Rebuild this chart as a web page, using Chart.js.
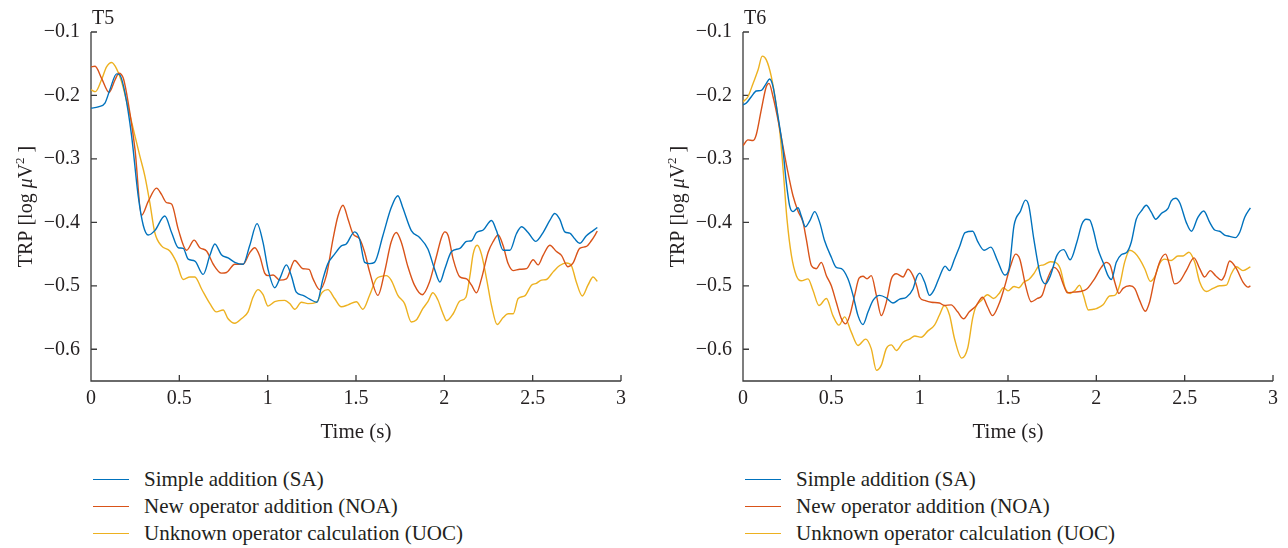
<!DOCTYPE html>
<html>
<head>
<meta charset="utf-8">
<script src="https://cdn.jsdelivr.net/npm/chart.js@4.4.1/dist/chart.umd.min.js"></script>
<style>
  body { margin: 0; background: #fff; width: 1288px; height: 548px; position: relative; overflow: hidden;
         font-family: 'Liberation Serif', serif; color: #231f20; }
  .panel { position: absolute; top: 0; width: 652px; height: 450px; }
  .tag { position: absolute; top: 7px; font-size: 20px; line-height: 20px; }
  .legend { position: absolute; top: 466px; font-size: 21px; line-height: 27px; }
  .legend div { display: flex; align-items: center; white-space: nowrap; }
  .legend .swatch { display: inline-block; width: 36px; height: 0; border-top: 1.5px solid; margin-right: 15px; }
</style>
</head>
<body>
<div class="panel" style="left:0"><canvas id="chartT5" width="652" height="450"></canvas></div>
<div class="panel" style="left:652px"><canvas id="chartT6" width="652" height="450"></canvas></div>
<div class="tag" style="left:92px">T5</div>
<div class="tag" style="left:744px">T6</div>
<div class="legend" id="legendT5" style="left:93px"></div>
<div class="legend" id="legendT6" style="left:745px"></div>

<script>
// tick values and series names
const xTicks = [0, 0.5, 1, 1.5, 2, 2.5, 3];
const yTicks = [-0.6, -0.5, -0.4, -0.3, -0.2, -0.1];
const seriesNames = ['Simple addition (SA)', 'New operator addition (NOA)', 'Unknown operator calculation (UOC)'];
const seriesColors = ['#0072bd', '#d95319', '#edb120'];

// T5: [time (s), TRP]
const t5Sa = [[0,-0.22],[0.041,-0.218],[0.079,-0.212],[0.107,-0.191],[0.145,-0.166],[0.164,-0.168],[0.192,-0.196],[0.23,-0.264],[0.267,-0.358],[0.296,-0.405],[0.324,-0.42],[0.361,-0.413],[0.418,-0.39],[0.456,-0.416],[0.494,-0.44],[0.522,-0.441],[0.55,-0.458],[0.588,-0.461],[0.635,-0.482],[0.673,-0.452],[0.701,-0.434],[0.738,-0.451],[0.776,-0.456],[0.814,-0.463],[0.861,-0.466],[0.898,-0.437],[0.94,-0.402],[0.974,-0.432],[1.002,-0.474],[1.04,-0.503],[1.068,-0.489],[1.106,-0.467],[1.134,-0.484],[1.162,-0.51],[1.2,-0.515],[1.238,-0.521],[1.279,-0.526],[1.313,-0.489],[1.341,-0.465],[1.379,-0.45],[1.417,-0.437],[1.445,-0.434],[1.492,-0.415],[1.52,-0.426],[1.549,-0.463],[1.577,-0.465],[1.605,-0.463],[1.652,-0.421],[1.699,-0.377],[1.737,-0.358],[1.765,-0.377],[1.813,-0.413],[1.86,-0.424],[1.907,-0.442],[1.944,-0.473],[1.975,-0.494],[2.003,-0.473],[2.041,-0.446],[2.088,-0.441],[2.126,-0.43],[2.154,-0.429],[2.182,-0.416],[2.22,-0.412],[2.267,-0.397],[2.295,-0.413],[2.333,-0.444],[2.371,-0.444],[2.408,-0.418],[2.437,-0.407],[2.474,-0.416],[2.518,-0.43],[2.559,-0.416],[2.597,-0.397],[2.625,-0.386],[2.653,-0.395],[2.682,-0.415],[2.71,-0.417],[2.738,-0.426],[2.766,-0.433],[2.804,-0.421],[2.842,-0.413],[2.866,-0.408]];
const t5Noa = [[0,-0.155],[0.023,-0.154],[0.06,-0.173],[0.102,-0.195],[0.135,-0.176],[0.158,-0.165],[0.183,-0.173],[0.211,-0.212],[0.249,-0.285],[0.286,-0.389],[0.324,-0.367],[0.371,-0.346],[0.399,-0.356],[0.428,-0.369],[0.456,-0.371],[0.494,-0.411],[0.541,-0.444],[0.584,-0.428],[0.616,-0.44],[0.654,-0.445],[0.692,-0.466],[0.738,-0.48],[0.767,-0.479],[0.814,-0.466],[0.861,-0.466],[0.898,-0.448],[0.927,-0.44],[0.955,-0.453],[0.983,-0.48],[1.002,-0.484],[1.031,-0.483],[1.068,-0.491],[1.106,-0.489],[1.153,-0.46],[1.2,-0.473],[1.234,-0.474],[1.257,-0.489],[1.294,-0.506],[1.332,-0.484],[1.37,-0.426],[1.398,-0.39],[1.426,-0.373],[1.455,-0.395],[1.483,-0.418],[1.52,-0.426],[1.549,-0.447],[1.577,-0.478],[1.624,-0.515],[1.662,-0.478],[1.699,-0.431],[1.728,-0.416],[1.756,-0.431],[1.794,-0.47],[1.831,-0.499],[1.875,-0.514],[1.916,-0.494],[1.954,-0.455],[1.985,-0.423],[2.003,-0.415],[2.022,-0.421],[2.05,-0.458],[2.088,-0.486],[2.126,-0.489],[2.154,-0.499],[2.182,-0.511],[2.21,-0.489],[2.248,-0.447],[2.277,-0.43],[2.305,-0.42],[2.333,-0.437],[2.361,-0.465],[2.39,-0.476],[2.427,-0.474],[2.465,-0.473],[2.503,-0.459],[2.531,-0.467],[2.559,-0.452],[2.597,-0.436],[2.635,-0.446],[2.663,-0.452],[2.7,-0.47],[2.729,-0.464],[2.766,-0.441],[2.804,-0.438],[2.832,-0.429],[2.866,-0.414]];
const t5Uoc = [[0,-0.191],[0.025,-0.194],[0.06,-0.175],[0.088,-0.155],[0.117,-0.148],[0.145,-0.158],[0.173,-0.178],[0.211,-0.22],[0.249,-0.264],[0.277,-0.296],[0.305,-0.327],[0.333,-0.369],[0.361,-0.416],[0.399,-0.437],[0.446,-0.445],[0.484,-0.463],[0.522,-0.49],[0.56,-0.486],[0.588,-0.486],[0.626,-0.505],[0.673,-0.528],[0.71,-0.541],[0.748,-0.538],[0.776,-0.552],[0.814,-0.559],[0.851,-0.552],[0.889,-0.541],[0.917,-0.518],[0.945,-0.506],[0.974,-0.514],[1.002,-0.532],[1.04,-0.525],[1.096,-0.523],[1.125,-0.528],[1.153,-0.537],[1.191,-0.526],[1.228,-0.528],[1.275,-0.526],[1.309,-0.51],[1.341,-0.506],[1.379,-0.52],[1.417,-0.533],[1.455,-0.53],[1.502,-0.525],[1.539,-0.537],[1.577,-0.515],[1.615,-0.489],[1.643,-0.485],[1.671,-0.484],[1.699,-0.491],[1.737,-0.515],[1.775,-0.528],[1.813,-0.557],[1.841,-0.554],[1.878,-0.536],[1.907,-0.525],[1.935,-0.511],[1.963,-0.522],[1.99,-0.542],[2.013,-0.555],[2.05,-0.544],[2.088,-0.524],[2.122,-0.518],[2.145,-0.484],[2.163,-0.45],[2.186,-0.436],[2.21,-0.45],[2.239,-0.489],[2.267,-0.531],[2.299,-0.561],[2.333,-0.55],[2.361,-0.544],[2.39,-0.544],[2.418,-0.52],[2.455,-0.516],[2.493,-0.499],[2.521,-0.496],[2.55,-0.491],[2.578,-0.49],[2.616,-0.478],[2.653,-0.468],[2.691,-0.464],[2.719,-0.468],[2.747,-0.494],[2.781,-0.516],[2.813,-0.499],[2.842,-0.486],[2.866,-0.493]];

// T6: [time (s), TRP]
const t6Sa = [[0,-0.215],[0.019,-0.212],[0.047,-0.202],[0.075,-0.193],[0.104,-0.192],[0.132,-0.181],[0.151,-0.174],[0.17,-0.186],[0.198,-0.233],[0.226,-0.285],[0.245,-0.337],[0.264,-0.374],[0.283,-0.383],[0.311,-0.377],[0.33,-0.39],[0.353,-0.407],[0.377,-0.398],[0.406,-0.383],[0.434,-0.4],[0.462,-0.429],[0.5,-0.455],[0.528,-0.471],[0.557,-0.473],[0.594,-0.489],[0.623,-0.515],[0.651,-0.547],[0.679,-0.561],[0.708,-0.541],[0.736,-0.523],[0.774,-0.515],[0.811,-0.519],[0.849,-0.527],[0.887,-0.521],[0.925,-0.518],[0.962,-0.505],[0.985,-0.485],[1.0,-0.48],[1.028,-0.494],[1.056,-0.515],[1.084,-0.505],[1.112,-0.486],[1.144,-0.469],[1.169,-0.476],[1.197,-0.458],[1.225,-0.439],[1.257,-0.416],[1.3,-0.414],[1.328,-0.43],[1.365,-0.444],[1.403,-0.439],[1.44,-0.46],[1.481,-0.483],[1.506,-0.473],[1.534,-0.405],[1.571,-0.382],[1.599,-0.365],[1.618,-0.374],[1.646,-0.426],[1.684,-0.484],[1.712,-0.497],[1.74,-0.484],[1.777,-0.452],[1.815,-0.443],[1.852,-0.459],[1.89,-0.431],[1.918,-0.403],[1.942,-0.395],[1.962,-0.396],[1.981,-0.41],[2.009,-0.442],[2.038,-0.463],[2.066,-0.484],[2.085,-0.49],[2.113,-0.463],[2.141,-0.451],[2.173,-0.447],[2.198,-0.431],[2.226,-0.395],[2.255,-0.382],[2.283,-0.373],[2.311,-0.384],[2.336,-0.395],[2.368,-0.386],[2.406,-0.378],[2.424,-0.366],[2.449,-0.362],[2.472,-0.369],[2.509,-0.4],[2.538,-0.414],[2.575,-0.392],[2.608,-0.382],[2.642,-0.4],[2.67,-0.412],[2.698,-0.414],[2.726,-0.42],[2.755,-0.422],[2.787,-0.424],[2.811,-0.416],[2.84,-0.392],[2.872,-0.377]];
const t6Noa = [[0,-0.279],[0.028,-0.27],[0.057,-0.271],[0.075,-0.262],[0.104,-0.222],[0.132,-0.186],[0.147,-0.181],[0.17,-0.202],[0.198,-0.238],[0.226,-0.28],[0.255,-0.322],[0.283,-0.358],[0.311,-0.382],[0.34,-0.4],[0.358,-0.426],[0.387,-0.468],[0.415,-0.473],[0.443,-0.463],[0.472,-0.484],[0.5,-0.5],[0.528,-0.526],[0.557,-0.552],[0.581,-0.56],[0.604,-0.547],[0.632,-0.515],[0.657,-0.488],[0.679,-0.485],[0.702,-0.489],[0.726,-0.484],[0.755,-0.515],[0.783,-0.547],[0.811,-0.526],[0.84,-0.489],[0.868,-0.481],[0.906,-0.486],[0.934,-0.474],[0.962,-0.484],[0.985,-0.502],[1.0,-0.518],[1.028,-0.523],[1.066,-0.526],[1.112,-0.527],[1.14,-0.531],[1.178,-0.53],[1.215,-0.541],[1.249,-0.552],[1.281,-0.541],[1.318,-0.532],[1.356,-0.518],[1.384,-0.533],[1.412,-0.547],[1.45,-0.528],[1.478,-0.504],[1.515,-0.468],[1.543,-0.45],[1.567,-0.458],[1.599,-0.499],[1.631,-0.525],[1.665,-0.52],[1.693,-0.515],[1.721,-0.491],[1.759,-0.471],[1.787,-0.478],[1.815,-0.499],[1.837,-0.511],[1.871,-0.51],[1.908,-0.509],[1.946,-0.505],[1.975,-0.495],[1.99,-0.489],[2.028,-0.471],[2.056,-0.463],[2.079,-0.468],[2.104,-0.494],[2.128,-0.512],[2.151,-0.504],[2.189,-0.5],[2.217,-0.504],[2.245,-0.523],[2.277,-0.54],[2.302,-0.525],[2.33,-0.489],[2.362,-0.46],[2.392,-0.45],[2.415,-0.468],[2.443,-0.497],[2.472,-0.493],[2.509,-0.476],[2.553,-0.456],[2.585,-0.473],[2.613,-0.486],[2.645,-0.476],[2.675,-0.484],[2.708,-0.491],[2.726,-0.484],[2.755,-0.461],[2.793,-0.473],[2.83,-0.494],[2.859,-0.502],[2.872,-0.5]];
const t6Uoc = [[0,-0.21],[0.028,-0.202],[0.057,-0.181],[0.085,-0.16],[0.109,-0.138],[0.132,-0.144],[0.16,-0.17],[0.189,-0.217],[0.211,-0.264],[0.23,-0.327],[0.249,-0.395],[0.274,-0.452],[0.302,-0.484],[0.33,-0.492],[0.368,-0.489],[0.396,-0.507],[0.43,-0.531],[0.472,-0.52],[0.509,-0.547],[0.543,-0.562],[0.575,-0.549],[0.613,-0.573],[0.651,-0.594],[0.694,-0.584],[0.726,-0.599],[0.755,-0.633],[0.783,-0.625],[0.811,-0.599],[0.84,-0.593],[0.868,-0.602],[0.906,-0.589],[0.943,-0.584],[0.972,-0.579],[1.009,-0.581],[1.047,-0.571],[1.084,-0.562],[1.112,-0.546],[1.14,-0.531],[1.169,-0.546],[1.197,-0.583],[1.238,-0.614],[1.272,-0.598],[1.3,-0.551],[1.318,-0.533],[1.346,-0.524],[1.384,-0.514],[1.418,-0.52],[1.45,-0.512],[1.474,-0.503],[1.5,-0.508],[1.534,-0.501],[1.562,-0.503],[1.59,-0.494],[1.618,-0.49],[1.646,-0.481],[1.674,-0.469],[1.702,-0.467],[1.74,-0.462],[1.768,-0.463],[1.796,-0.473],[1.824,-0.504],[1.852,-0.512],[1.88,-0.507],[1.905,-0.499],[1.927,-0.515],[1.955,-0.538],[1.983,-0.537],[2.0,-0.536],[2.038,-0.53],[2.075,-0.516],[2.104,-0.515],[2.132,-0.499],[2.16,-0.463],[2.189,-0.444],[2.217,-0.448],[2.245,-0.458],[2.274,-0.473],[2.306,-0.493],[2.33,-0.486],[2.358,-0.465],[2.387,-0.458],[2.424,-0.46],[2.462,-0.453],[2.491,-0.453],[2.524,-0.447],[2.557,-0.463],[2.585,-0.494],[2.623,-0.509],[2.66,-0.504],[2.698,-0.5],[2.736,-0.499],[2.764,-0.481],[2.793,-0.47],[2.83,-0.476],[2.872,-0.47]];

const textColor = '#231f20';
const fontFamily = "'Liberation Serif', 'Times New Roman', serif";

// axis lines with the tick marks pointing into the plot
const inwardAxes = {
    id: 'inwardAxes',
    beforeDatasetsDraw(chart) {
        const { ctx, chartArea: a, scales: { x, y } } = chart;
        ctx.save();
        ctx.strokeStyle = '#3a3a3a';
        ctx.lineWidth = 1.3;
        ctx.beginPath();
        ctx.moveTo(a.left, a.top);
        ctx.lineTo(a.left, a.bottom);
        ctx.lineTo(a.right, a.bottom);
        x.ticks.forEach(t => {
            const px = x.getPixelForValue(t.value);
            ctx.moveTo(px, a.bottom);
            ctx.lineTo(px, a.bottom - 6);
        });
        y.ticks.forEach(t => {
            const py = y.getPixelForValue(t.value);
            ctx.moveTo(a.left, py);
            ctx.lineTo(a.left + 6, py);
        });
        ctx.stroke();
        ctx.restore();
    }
};

// y title with italic mu and a raised 2: TRP [log μV²]
const yTitle = {
    id: 'yTitle',
    afterDraw(chart) {
        const { ctx, chartArea: a } = chart;
        const parts = [
            { t: 'TRP [log ', f: '20px ' + fontFamily, dy: 0 },
            { t: '\u03bc', f: 'italic 20px ' + fontFamily, dy: 0 },
            { t: 'V', f: '20px ' + fontFamily, dy: 0 },
            { t: '2', f: '13px ' + fontFamily, dy: -8 },
            { t: ' ]', f: '20px ' + fontFamily, dy: 0 }
        ];
        ctx.save();
        let total = 0;
        parts.forEach(p => { ctx.font = p.f; p.w = ctx.measureText(p.t).width; total += p.w; });
        ctx.translate(32, (a.top + a.bottom) / 2);
        ctx.rotate(-Math.PI / 2);
        ctx.fillStyle = textColor;
        ctx.textBaseline = 'alphabetic';
        ctx.textAlign = 'left';
        let cx = -total / 2;
        parts.forEach(p => { ctx.font = p.f; ctx.fillText(p.t, cx, p.dy); cx += p.w; });
        ctx.restore();
    }
};

function makeChart(id, series) {
    const ctx = document.getElementById(id).getContext('2d');
    return new Chart(ctx, {
        type: 'line',
        data: {
            datasets: series.map((s, i) => ({
                label: seriesNames[i],
                data: s.map(p => ({ x: p[0], y: p[1] })),
                borderColor: seriesColors[i],
                borderWidth: 1.4,
                pointRadius: 0,
                fill: false,
                cubicInterpolationMode: 'monotone'
            }))
        },
        options: {
            responsive: false,
            animation: false,
            layout: { padding: { left: 0, top: 32, right: 31, bottom: 5 } },
            plugins: { legend: { display: false }, tooltip: { enabled: false } },
            scales: {
                x: {
                    type: 'linear',
                    min: 0,
                    max: 3,
                    afterBuildTicks: s => { s.ticks = xTicks.map(v => ({ value: v })); },
                    afterFit: s => { s.height = 64; },
                    grid: { display: false, drawTicks: false },
                    border: { display: false },
                    ticks: {
                        color: textColor,
                        font: { family: fontFamily, size: 20 },
                        padding: 6,
                        maxRotation: 0,
                        autoSkip: false,
                        callback: v => String(v)
                    },
                    title: {
                        display: true,
                        text: 'Time (s)',
                        color: textColor,
                        font: { family: fontFamily, size: 21 },
                        padding: { top: 0, bottom: 0 }
                    }
                },
                y: {
                    type: 'linear',
                    min: -0.65,
                    max: -0.1,
                    afterBuildTicks: s => { s.ticks = yTicks.map(v => ({ value: v })); },
                    afterFit: s => { s.width = 91; },
                    grid: { display: false, drawTicks: false },
                    border: { display: false },
                    ticks: {
                        color: textColor,
                        font: { family: fontFamily, size: 20 },
                        padding: 11,
                        callback: v => '\u2212' + Math.abs(v).toFixed(1)
                    }
                }
            }
        },
        plugins: [inwardAxes, yTitle]
    });
}

function makeLegend(id) {
    const box = document.getElementById(id);
    seriesNames.forEach((name, i) => {
        const row = document.createElement('div');
        const sw = document.createElement('span');
        sw.className = 'swatch';
        sw.style.borderColor = seriesColors[i];
        row.appendChild(sw);
        row.appendChild(document.createTextNode(name));
        box.appendChild(row);
    });
}

makeChart('chartT5', [t5Sa, t5Noa, t5Uoc]);
makeChart('chartT6', [t6Sa, t6Noa, t6Uoc]);
makeLegend('legendT5');
makeLegend('legendT6');
</script>
</body>
</html>
